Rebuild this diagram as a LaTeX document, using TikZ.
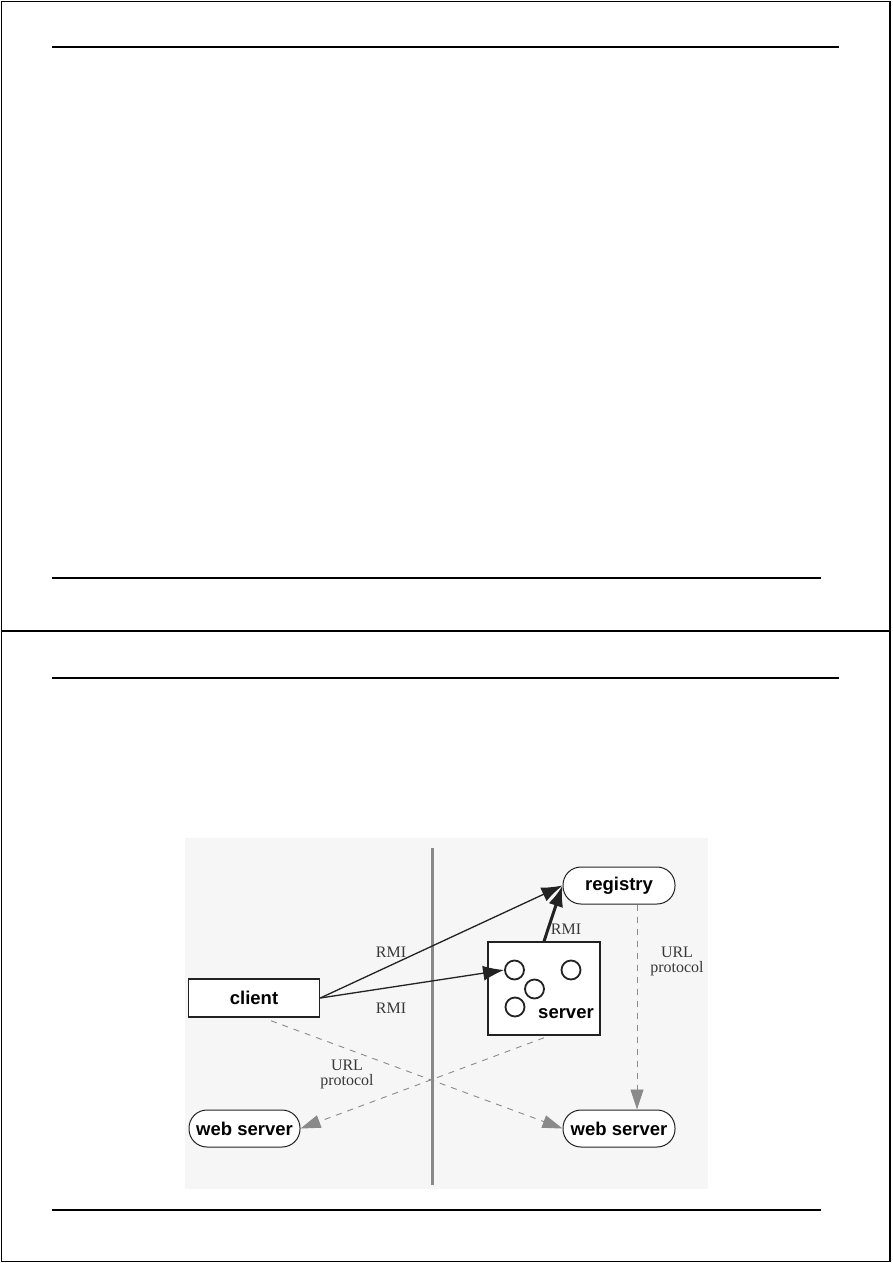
\documentclass[tikz,border=0pt]{standalone}
\usepackage{fontspec}
\setmainfont{Liberation Serif}
\setsansfont{Liberation Sans}
\usepackage{tikz}
\usepackage{xcolor}
\usetikzlibrary{calc,arrows.meta}
\definecolor{ink}{HTML}{222222}
\definecolor{backdrop}{HTML}{F6F6F6}
\definecolor{wire}{HTML}{8A8A8A}

\tikzset{
    box/.style={draw=ink, line width=1.5pt, fill=white, inner sep=0pt,
        font=\sffamily\bfseries\fontsize{18.5}{20}\selectfont},
    pill/.style={box, line width=1pt, rounded corners=18pt},
    obj/.style={circle, draw=ink, line width=1.8pt, fill=white,
        minimum size=19pt, inner sep=0pt},
    rmi/.style={draw=ink, line width=1.3pt, -{Latex[length=21pt,width=15pt]}},
    url/.style={draw=wire, line width=0.9pt, dash pattern=on 6pt off 6pt,
        -{Triangle[length=20pt,width=13pt]}},
    tag/.style={text=ink!90, align=center, inner sep=1pt,
        font=\rmfamily\fontsize{16}{18}\selectfont}
}

\begin{document}
\begin{tikzpicture}[
    x=1pt, y=-1pt,
    line width=1.5pt
]
\useasboundingbox (0,0) rectangle (893,1263);
%====================================================
% PAGE FRAMES
%====================================================
\draw (1.5,1.5) rectangle (890,1261.5);
\draw (1.5,631) -- (890,631);
\foreach \y in {47,678}
{
    \draw (52,\y) -- (839,\y);
}
\foreach \y in {578,1210}
{
    \draw (52,\y) -- (821,\y);
}

%====================================================
% RMI FIGURE
%====================================================
\fill[backdrop] (185,838) rectangle (708,1189);
\draw[wire, line width=3pt] (432,848) -- (432,1185);

\node[pill, minimum width=112pt, minimum height=37pt] (registry) at (619,885.5) {registry};
\node[box, minimum width=112pt, minimum height=93pt] (server) at (544,988.5) {};
\node[box, minimum width=131pt, minimum height=38pt] (client) at (254,998) {client};
\node[pill, minimum width=111pt, minimum height=37pt] (websrvL) at (244.5,1128.5) {web server};
\node[pill, minimum width=112pt, minimum height=37pt] (websrvR) at (619,1128.5) {web server};

\node[obj] (obj1) at (514.5,970) {};
\node[obj] (obj2) at (571,970) {};
\node[obj] (obj3) at (534.5,989) {};
\node[obj] (obj4) at (515,1007) {};
\node[font=\sffamily\bfseries\fontsize{18.5}{20}\selectfont, inner sep=0pt] (srvname) at (566,1014) {server};

% remote calls
\draw[rmi] (client.east) -- (registry.west);
\draw[rmi] (client.east) -- (obj1.west);
\draw[rmi, line width=3pt] (server.north) -- (registry.west);
\node[tag] (rmiA) at (391,952) {RMI};
\node[tag] (rmiB) at (391,1008) {RMI};
\node[tag] (rmiC) at (566,929) {RMI};

% class loading
\draw[url] ([xshift=17pt,yshift=-3pt]client.south) -- (websrvR.west);
\draw[url] ([yshift=-2pt]server.south) -- (websrvL.east);
\draw[url] ([xshift=18pt]registry.south) -- ([xshift=18pt]websrvR.north);
\node[tag] (urlA) at (347,1074) {URL\\[-3pt]protocol};
\node[tag] (urlB) at (677,961) {URL\\[-3pt]protocol};
\end{tikzpicture}
\end{document}
